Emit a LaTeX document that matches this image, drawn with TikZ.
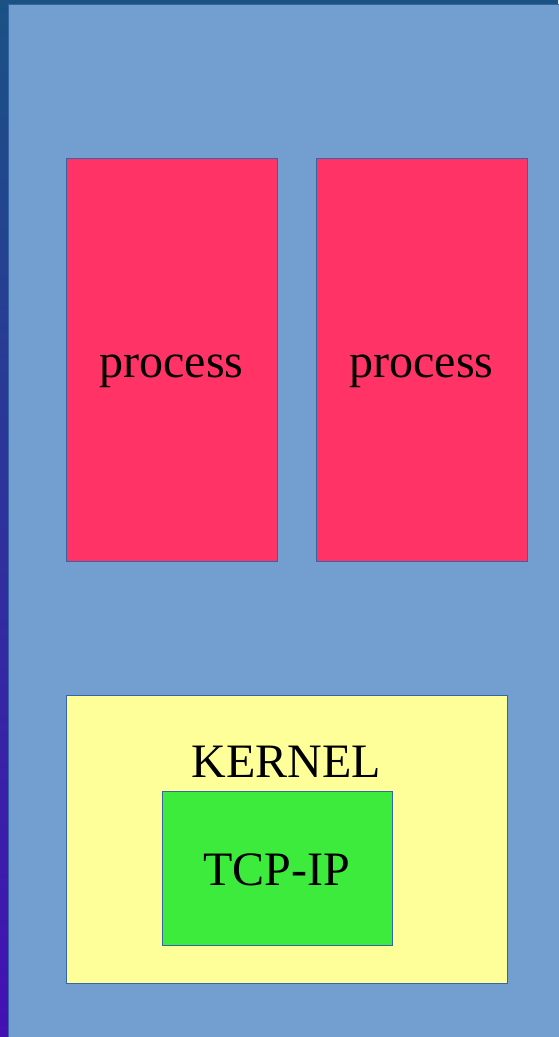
\documentclass[tikz,border=0pt]{standalone}
\usepackage{fontspec}
\setmainfont{Liberation Serif}
\usepackage{tikz}

\definecolor{deskblue}{HTML}{729FCF}
\definecolor{edgeblue}{HTML}{3465A4}
\definecolor{procred}{HTML}{FF3366}
\definecolor{kernyellow}{HTML}{FFFF99}
\definecolor{tcpgreen}{HTML}{3DEB3D}
\definecolor{topband}{HTML}{1A5284}
\definecolor{bottomband}{HTML}{4410B4}

\begin{document}
\begin{tikzpicture}[x=1pt,y=-1pt,
  bigtext/.style={inner sep=0pt,text height=35pt,text depth=0pt,
    font=\fontsize{48}{52}\selectfont},
  block/.style={bigtext,draw=edgeblue,line width=0.8pt}]
\useasboundingbox (0,0) rectangle (558,1037);
\shade[top color=topband,bottom color=bottomband] (0,0) rectangle (558,1037);
\filldraw[fill=deskblue,draw=edgeblue,line width=1pt] (8,4) rectangle (562,1041);
\node[block,fill=procred,minimum width=211,minimum height=403] (procA) at (171.5,359.5) {process};
\node[block,fill=procred,minimum width=211,minimum height=403] (procB) at (421.5,359.5) {process};
\node[block,fill=kernyellow,minimum width=441,minimum height=288] (kernel) at (286.5,839) {};
\node[bigtext] (kernlabel) at (286,760) {KERNEL};
\node[block,fill=tcpgreen,minimum width=230,minimum height=154] (tcp) at (277,868) {TCP-IP};
\end{tikzpicture}
\end{document}
